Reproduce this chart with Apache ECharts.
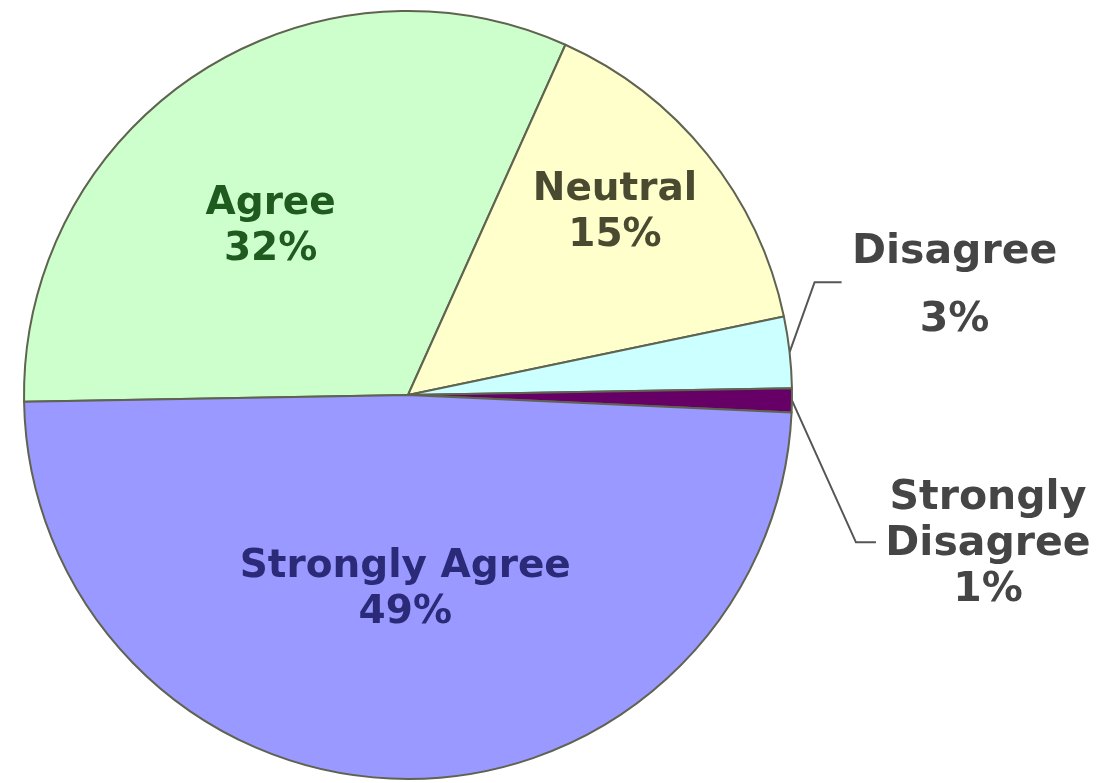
<!DOCTYPE html>
<html><head><meta charset="utf-8">
<script src="https://cdn.jsdelivr.net/npm/echarts@6/dist/echarts.min.js"></script>
<style>html,body{margin:0;padding:0;background:#fff}#c{width:1097px;height:783px}</style>
</head><body><div id="c"></div>
<script>
const categories = ['Agree', 'Neutral', 'Disagree', 'Strongly\nDisagree', 'Strongly Agree'];
const values = [32, 15, 3, 1, 49];
const colors = ['#ccffcc', '#ffffcc', '#ccffff', '#660066', '#9999ff'];
const labelColors = ['#1f5a1f', '#4a4a30', '#454545', '#454545', '#2a2a78'];

const chart = echarts.init(document.getElementById('c'));
const data = categories.map((c, i) => {
  const outside = (i === 2 || i === 3);
  return {
    name: c, value: values[i],
    itemStyle: { color: colors[i] },
    label: {
      position: outside ? 'outside' : 'inside',
      color: labelColors[i],
      fontSize: outside ? 41 : 39,
      lineHeight: i === 2 ? 68 : 46
    },
    labelLine: { show: outside }
  };
});

chart.setOption({
  animation: false,
  series: [{
    type: 'pie',
    center: [408, 395],
    radius: 384,
    startAngle: 181,
    clockwise: true,
    data: data,
    itemStyle: { borderColor: '#5f6350', borderWidth: 2 },
    label: {
      formatter: '{b}\n{c}%',
      fontFamily: 'DejaVu Sans',
      fontWeight: 'bold',
      align: 'center'
    },
    labelLine: { lineStyle: { color: '#555', width: 2 }, length: 20, length2: 20 },
    labelLayout: function (p) {
      const i = p.dataIndex;
      if (i === 0) return { dx: -30, dy: -5 };
      if (i === 1) return { dx: 55, dy: -60 };
      if (i === 2 || i === 3) {
        const s = p.labelLinePoints ? p.labelLinePoints[0] : [p.rect.x + p.rect.width, p.rect.y + p.rect.height / 2];
        if (i === 2) {
          return {
            x: s[0] + 165, y: s[1] - 66, align: 'center', verticalAlign: 'middle',
            labelLinePoints: [s, [s[0] + 25, s[1] - 70], [s[0] + 52, s[1] - 70]]
          };
        }
        return {
          x: s[0] + 196, y: s[1] + 144, align: 'center', verticalAlign: 'middle',
          labelLinePoints: [s, [s[0] + 64, s[1] + 142], [s[0] + 84, s[1] + 142]]
        };
      }
      return {};
    }
  }]
});
</script></body></html>
